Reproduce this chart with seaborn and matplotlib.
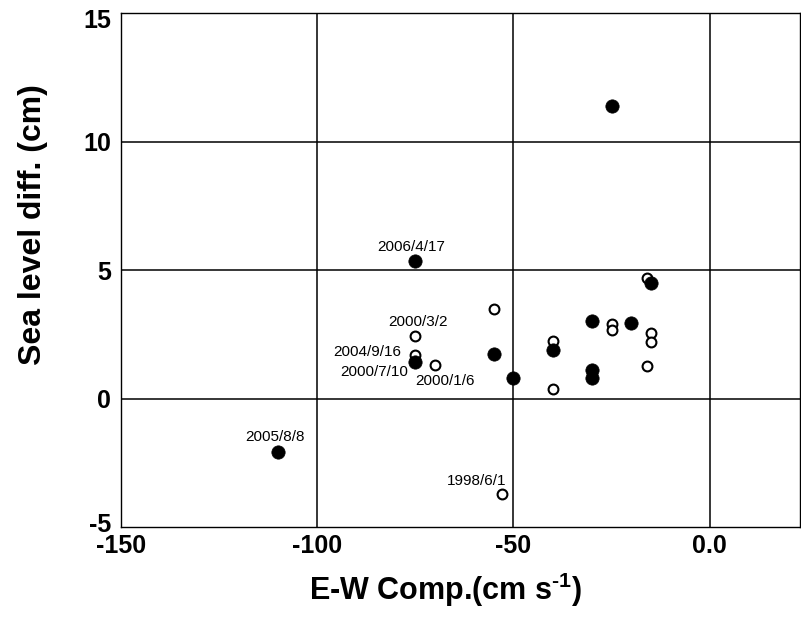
import matplotlib
matplotlib.use("Agg")
import matplotlib.pyplot as plt
import matplotlib.transforms as mtransforms
import seaborn as sns
import pandas as pd

# ---- data ----
filled_x = [-25, -75, -110, -55, -75, -50, -15, -30, -20, -40, -30, -30]
filled_y = [11.4, 5.35, -2.1, 1.73, 1.41, 0.8, 4.5, 3.0, 2.93, 1.9, 1.12, 0.8]

open_x = [-55, -75, -75, -70, -16, -25, -25, -15, -15, -40, -16, -40, -53]
open_y = [3.5, 2.45, 1.7, 1.32, 4.68, 2.9, 2.67, 2.54, 2.18, 2.22, 1.27, 0.37, -3.7]

label_texts = ["2006/4/17", "2000/3/2", "2004/9/16", "2000/7/10", "2000/1/6", "2005/8/8", "1998/6/1"]
label_x = [-75, -75, -75, -75, -70, -110, -53]
label_y = [5.35, 2.45, 1.7, 1.41, 1.32, -2.1, -3.7]

x_ticks = [-150, -100, -50, 0]
x_ticklabels = ["-150", "-100", "-50", "0.0"]
y_ticks = [-5, 0, 5, 10, 15]
y_ticklabels = ["-5", "0", "5", "10", "15"]

# label offsets (points), layout only
label_offsets = [(-3, 10), (2, 10), (-35, 2), (-30, -7), (7, -12), (-2, 11), (-18, 9)]

sns.set_theme(style="white")
plt.rcParams["font.family"] = ["Liberation Sans", "DejaVu Sans"]
plt.rcParams["mathtext.fontset"] = "custom"
plt.rcParams["mathtext.rm"] = "Liberation Sans:bold"
plt.rcParams["mathtext.it"] = "Liberation Sans:bold"
plt.rcParams["mathtext.bf"] = "Liberation Sans:bold"
for k in ["text.color", "axes.labelcolor", "xtick.color", "ytick.color"]:
    plt.rcParams[k] = "black"

fig = plt.figure(figsize=(8.01, 6.19), dpi=100)
ax = fig.add_axes([121 / 801, 1 - 527 / 619, 679 / 801, 514 / 619])

df_open = pd.DataFrame({"x": open_x, "y": open_y})
df_filled = pd.DataFrame({"x": filled_x, "y": filled_y})

sns.scatterplot(data=df_open, x="x", y="y", ax=ax, s=50, facecolor="white",
                edgecolor="black", linewidth=1.5, zorder=3)
sns.scatterplot(data=df_filled, x="x", y="y", ax=ax, s=92, color="black",
                edgecolor="black", linewidth=0.5, zorder=4)

for t, x, y, off in zip(label_texts, label_x, label_y, label_offsets):
    ax.annotate(t, (x, y), xytext=off, textcoords="offset points",
                ha="center", va="center", fontsize=11, color="black", zorder=5)

ax.set_xlim(-150, 23)
ax.set_ylim(-5, 15)
ax.set_xticks(x_ticks)
ax.set_xticklabels(x_ticklabels)
ax.set_yticks(y_ticks)
ax.set_yticklabels(y_ticklabels)

for v in [-100, -50, 0]:
    ax.axvline(v, color="black", lw=1.1, zorder=1)
for v in [0, 5, 10]:
    ax.axhline(v, color="black", lw=1.1, zorder=1)

ax.tick_params(axis="both", length=0, labelsize=18, labelcolor="black")
ax.tick_params(axis="x", pad=5)
ax.tick_params(axis="y", pad=7)
for lab in ax.get_xticklabels() + ax.get_yticklabels():
    lab.set_fontweight("bold")

# nudge the end y labels apart from the x labels, as in the reference
ylabs = ax.get_yticklabels()
ylabs[0].set_transform(ylabs[0].get_transform() +
                       mtransforms.ScaledTranslation(0, 5 / 100, fig.dpi_scale_trans))
ylabs[-1].set_transform(ylabs[-1].get_transform() +
                        mtransforms.ScaledTranslation(0, -6 / 100, fig.dpi_scale_trans))

for sp in ax.spines.values():
    sp.set_color("black")
    sp.set_linewidth(1.0)

ax.set_xlabel("E-W Comp.(cm s$^{\u2010 1}$)", fontsize=22, fontweight="bold", color="black")
ax.set_ylabel("Sea level diff. (cm)", fontsize=23, fontweight="bold", color="black")
ax.xaxis.set_label_coords((446 - 121) / 679, (527 - 571) / 514)
ax.yaxis.set_label_coords((48 - 121) / 679, (527 - 225) / 514)

fig.savefig("out.png", dpi=100, facecolor="white")
